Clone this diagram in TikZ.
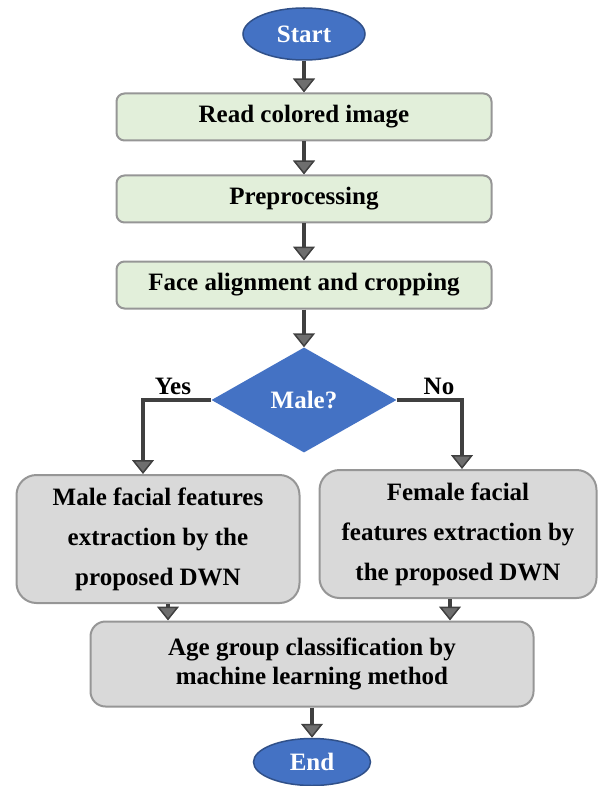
\documentclass[tikz,border=0pt]{standalone}
\usepackage{fontspec}
\setmainfont{Liberation Serif}
\usetikzlibrary{shapes.geometric,arrows.meta,positioning}
\definecolor{flowblue}{RGB}{68,114,196}
\definecolor{stepgreen}{RGB}{226,239,218}
\definecolor{procgray}{RGB}{217,217,217}
\definecolor{boxline}{RGB}{150,150,150}
\definecolor{arrowgray}{RGB}{64,64,64}
\definecolor{tipgray}{RGB}{110,110,110}

\begin{document}
\begin{tikzpicture}[x=1pt, y=-1pt,
    term/.style={ellipse, draw=flowblue!70!black, line width=1.5pt, fill=flowblue, text=white, font=\bfseries\fontsize{25}{30}\selectfont, minimum width=122pt, minimum height=52pt, inner sep=0pt},
    stepbox/.style={rectangle, rounded corners=8pt, draw=boxline, line width=2pt, fill=stepgreen, font=\bfseries\fontsize{25}{30}\selectfont, minimum width=375pt, minimum height=47pt, inner sep=0pt},
    procbox/.style={rectangle, rounded corners=20pt, draw=boxline, line width=2pt, fill=procgray, align=center, font=\bfseries\fontsize{25}{40}\selectfont, inner sep=0pt},
    decision/.style={diamond, fill=flowblue, text=white, font=\bfseries\fontsize{25}{30}\selectfont, minimum width=185pt, minimum height=105pt, inner sep=0pt},
    answer/.style={font=\bfseries\fontsize{25}{30}\selectfont, inner sep=0pt},
    edge/.style={line width=4pt, draw=arrowgray, -{Triangle[width=22pt,length=14pt,fill=tipgray,line width=1.5pt]}}
]
    \useasboundingbox (0,0) rectangle (600,786);

    \node[term] (start) at (304,34) {Start};
    \node[stepbox] (read) at (304,117) {Read colored image};
    \node[stepbox] (prep) at (304,199) {Preprocessing};
    \node[stepbox] (face) at (304,285) {Face alignment and cropping};
    \node[decision] (male) at (304,400) {Male?};
    \node[answer] (yes) at (173,386) {Yes};
    \node[answer] (no) at (439,386) {No};
    \node[procbox, minimum width=283pt, minimum height=128pt] (mfeat) at (158,539) {Male facial features\\extraction by the\\proposed DWN};
    \node[procbox, minimum width=277pt, minimum height=128pt] (ffeat) at (458,534) {Female facial\\features extraction by\\the proposed DWN};
    \node[procbox, rounded corners=15pt, minimum width=443pt, minimum height=85pt, font=\bfseries\fontsize{25}{29}\selectfont] (age) at (312,664) {Age group classification by\\machine learning method};
    \node[term, minimum width=117pt, minimum height=47pt] (stop) at (312,762) {End};

    \draw[edge] (start) -- (read);
    \draw[edge] (read) -- (prep);
    \draw[edge] (prep) -- (face);
    \draw[edge] (face) -- (male);
    \draw[edge] (male.west) -| ([xshift=-15pt]mfeat.north);
    \draw[edge] (male.east) -| ([xshift=4pt]ffeat.north);
    \draw[edge] ([xshift=10pt]mfeat.south) -- ([xshift=10pt]mfeat.south |- age.north);
    \draw[edge] ([xshift=-8pt]ffeat.south) -- ([xshift=-8pt]ffeat.south |- age.north);
    \draw[edge] (age) -- (stop);
\end{tikzpicture}
\end{document}
